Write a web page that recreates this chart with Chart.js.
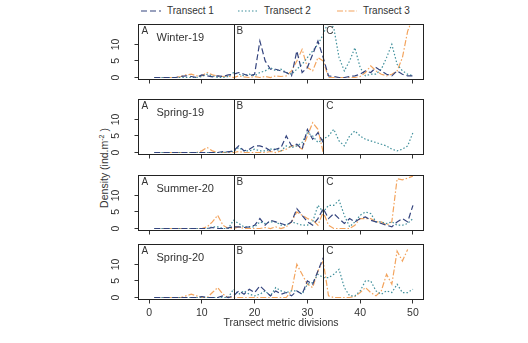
<!DOCTYPE html>
<html>
<head>
<meta charset="utf-8">
<script src="https://cdn.jsdelivr.net/npm/chart.js@4.4.0/dist/chart.umd.min.js"></script>
<style>
  body { margin: 0; background: #fff; }
  #wrap { position: relative; width: 528px; height: 343px; overflow: hidden;
          font-family: "Liberation Sans", Arial, sans-serif; color: #333; }
  #wrap canvas { position: absolute; left: 0; }
  .leg { position: absolute; top: 5px; font-size: 10px; line-height: 12px; white-space: nowrap; }
  .leg svg { vertical-align: middle; margin-right: 6px; }
  #ytitle { position: absolute; left: 104px; top: 168px; font-size: 10.5px; white-space: nowrap;
            transform: translate(-50%, -50%) rotate(-90deg); }
  #ytitle sup { font-size: 7px; }
</style>
</head>
<body>
<div id="wrap">
  <div id="ytitle">Density (ind.m<sup>-2</sup> )</div>
</div>
<script>
// transect metric divisions (x)
var divisions = [1,2,3,4,5,6,7,8,9,10,11,12,13,14,15,16,17,18,19,20,21,22,23,24,25,
                 26,27,28,29,30,31,32,33,34,35,36,37,38,39,40,41,42,43,44,45,46,47,48,49,50];
var xTicks = [0, 10, 20, 30, 40, 50];
var yTicks = [0, 5, 10];
var zoneBreaks = [16, 33];
var zoneNames = ["A", "B", "C"];
var seriesNames = ["Transect 1", "Transect 2", "Transect 3"];
var seasons = ["Winter-19", "Spring-19", "Summer-20", "Spring-20"];

// Winter-19
var w19T1 = [0,0,0,0,0,0.3,0.5,0.3,0,0.8, 0.5,0.2,0.5,0.3,0.8,1,1.5,1,0.5,1,
             11,5,2.5,2.5,2,1.5,0.5,8,1.5,3, 7,11,6,0.5,0.3,0,0,0.3,0.5,1,
             2,1.5,3,2,1,0.5,2,1,0.5,0.5];
var w19T2 = [0,0,0,0,0,0,0,0,0,0.3, 1,0.5,0,0,0.3,1.5,1,0.5,1,0.5,
             1.5,2,3,2,2.5,1.5,1,2.5,4,6, 8,10,13,17,15,6,2,5,9,3,
             0.5,1,1,2.5,6,10,4,2,1,0.5];
var w19T3 = [0,0,0,0,0,0.3,0.8,1,0.5,0.5, 1.5,0.8,0.5,0.3,0.5,0,0.5,0.2,0,0.3,
             0,0.3,0,0.5,0.3,0.5,2,5,8.5,3, 2,6,5,0,0,0,0,0,0,0.3,
             1.5,3.5,2,1,0.5,1,2,6,14,18];
// Spring-19
var s19T1 = [0,0,0,0,0,0,0,0,0,0, 0,0,0,0.3,0.2,0.5,2,0.5,1,2,
             2,1.5,0.5,1,1.5,5,2,2.5,1,7, 4,6,3,null,null,null,null,null,null,null,
             null,null,null,null,null,null,null,null,null,null];
var s19T2 = [0,0,0,0,0,0,0,0,0,0, 0,0,0,0,0.2,0.3,1.5,0.5,0.5,1,
             0.5,0.5,1,1,0.5,2,1.5,2,3,6, 5,3,4,5,7,3.5,2,5,6.5,5,
             4,3.5,3,2.5,2,1,0.5,1,2,6];
var s19T3 = [0,0,0,0,0,0,0,0,0,0.5, 1.5,0.5,0,0,0,0,0.3,0,0,0,
             0,0,0.3,0,0.5,1,2,2,1,5, 9,7,0,null,null,null,null,null,null,null,
             null,null,null,null,null,null,null,null,null,null];
// Summer-20
var s20T1 = [0,0,0,0,0,0,0,0,0,0, 0,0.3,0,0,0.2,0.5,0.5,0.3,0.5,1,
             3,1,2.5,2,1.5,1,2,6,4,2, 1,3,6,3,4.5,3,1.5,3,2,3,
             3.5,2.5,2,1.5,1,0.5,2,3,2,7];
var s20T2 = [0,0,0,0,0,0,0,0,0,0, 0,0.5,0.5,0,0,2.5,1.5,0.5,0.5,0.5,
             2,1.5,2,2,1,1,2,1.5,1,1, 2,7,5,7,7,8.5,4,0.5,2,4,
             5,4.5,2,2,1.5,2,1,1,1.5,3];
var s20T3 = [0,0,0,0,0,0,0,0,0,0, 0.5,2,4,1,0,0,0.5,0,0,0,
             0,0.3,0,0.5,0,0.5,2,5,4,3, 2.5,1,5,1,0,0,0,0,1,3,
             3,3,2,2,1,2,15,14.7,15.2,15.8];
// Spring-20
var sp20T1 = [0,0,0,0,0,0,0,0,0,0.3, 0,0,0,0.5,0,0.5,2,1,2.5,1.5,
              3.5,2,0.5,2,1,1.5,0.5,2,1,5, 4,8,12,null,null,null,null,null,null,null,
              null,null,null,null,null,null,null,null,null,null];
var sp20T2 = [0,0,0,0,0,0,0,0,0,0, 0,0,0,0,0,2.5,1,2,1,0.5,
              1,2,0.5,3,2,1.5,2,2,1,4, 4.5,7,6,6,7,8.5,3,0.5,0.5,2,
              5,5,2,1,2,1.5,4,1.5,1.5,2.5];
var sp20T3 = [0,0,0,0,0,0,0.5,1,0.5,0, 0,1.5,3,1,0,0,0,0,0,0,
              0,0,0,0,0,0,2,10,7,4, 3,8,11,0.5,0,0,0,0,0.3,1.5,
              3,1.5,0.5,2,7,4,14,11,14.5,null];

var panelSeries = [
  [w19T1, w19T2, w19T3],
  [s19T1, s19T2, s19T3],
  [s20T1, s20T2, s20T3],
  [sp20T1, sp20T2, sp20T3]
];

// styles
var lineColors = ["#34447e", "#3f8f9b", "#f3a45e"];
var lineDashes = [[6, 3], [1.5, 2], [6, 2, 1.5, 2]];
var FONT = '"Liberation Sans", Arial, sans-serif';
var AREA_L = 138.5, AREA_R = 423.5, BOX_H = 55;
var boxTops = [24.5, 99.5, 175.5, 244.5];

var wrap = document.getElementById("wrap");

// legend
var legLeft = [141, 238, 337];
seriesNames.forEach(function (name, i) {
  var d = document.createElement("div");
  d.className = "leg";
  d.style.left = legLeft[i] + "px";
  d.innerHTML = '<svg width="20" height="4"><line x1="0" y1="2" x2="20" y2="2" stroke="' +
    lineColors[i] + '" stroke-width="1.2" stroke-dasharray="' + lineDashes[i].join(",") +
    '"/></svg>' + name;
  wrap.appendChild(d);
});

var panelDecor = {
  id: "panelDecor",
  afterDraw: function (chart, args, opts) {
    var ctx = chart.ctx, a = chart.chartArea, x = chart.scales.x, y = chart.scales.y;
    ctx.save();
    ctx.strokeStyle = "#222";
    ctx.lineWidth = 1;
    ctx.strokeRect(a.left, a.top, a.right - a.left, a.bottom - a.top);
    zoneBreaks.forEach(function (b) {
      var px = Math.round(x.getPixelForValue(b)) + 0.5;
      ctx.beginPath();
      ctx.moveTo(px, a.top);
      ctx.lineTo(px, a.bottom);
      ctx.stroke();
    });
    ctx.fillStyle = "#333";
    ctx.font = "10px " + FONT;
    ctx.textBaseline = "top";
    zoneNames.forEach(function (z, i) {
      var left = i === 0 ? a.left : x.getPixelForValue(zoneBreaks[i - 1]);
      ctx.fillText(z, left + 3, a.top + 2);
    });
    ctx.font = "11px " + FONT;
    ctx.textBaseline = "middle";
    ctx.fillText(opts.season, a.left + 18, a.top + 13);
    // rotated y tick labels
    ctx.font = "10.5px " + FONT;
    ctx.textAlign = "center";
    yTicks.forEach(function (v) {
      ctx.save();
      ctx.translate(116, y.getPixelForValue(v));
      ctx.rotate(-Math.PI / 2);
      ctx.fillText(String(v), 0, 0);
      ctx.restore();
    });
    ctx.restore();
  }
};

panelSeries.forEach(function (series, p) {
  var isLast = p === panelSeries.length - 1;
  var canvasTop = Math.floor(boxTops[p]) - 5;
  var padTop = boxTops[p] - canvasTop;
  var canvasH = isLast ? 343 - canvasTop : Math.ceil(padTop + BOX_H + 8);
  var axisH = canvasH - padTop - BOX_H;

  var cv = document.createElement("canvas");
  cv.width = 528;
  cv.height = canvasH;
  cv.style.top = canvasTop + "px";
  wrap.appendChild(cv);

  var datasets = series.map(function (vals, i) {
    return {
      label: seriesNames[i],
      data: divisions.map(function (d, k) { return { x: d, y: vals[k] }; }),
      borderColor: lineColors[i],
      borderDash: lineDashes[i],
      borderWidth: 1.2,
      pointRadius: 0,
      tension: 0,
      fill: false,
      spanGaps: false
    };
  });

  new Chart(cv, {
    type: "line",
    data: { datasets: datasets },
    options: {
      responsive: false,
      animation: false,
      devicePixelRatio: 1,
      layout: { padding: { top: padTop, right: 528 - AREA_R, left: 0, bottom: 0 } },
      plugins: {
        legend: { display: false },
        tooltip: { enabled: false },
        panelDecor: { season: seasons[p] }
      },
      scales: {
        x: {
          type: "linear", min: -2, max: 52,
          afterBuildTicks: function (s) { s.ticks = xTicks.map(function (v) { return { value: v }; }); },
          afterFit: function (s) { s.height = axisH; },
          grid: { drawOnChartArea: false, drawTicks: true, tickLength: 4, color: "#333" },
          border: { display: false },
          ticks: { display: isLast, color: "#333", padding: 3, maxRotation: 0,
                   font: { size: 10.5, family: FONT } },
          title: { display: isLast, text: "Transect metric divisions", color: "#333",
                   font: { size: 10.5, family: FONT }, padding: { top: 0, bottom: 14 } }
        },
        y: {
          type: "linear", min: -0.6, max: 16,
          afterBuildTicks: function (s) { s.ticks = yTicks.map(function (v) { return { value: v }; }); },
          afterFit: function (s) { s.width = AREA_L; },
          grid: { drawOnChartArea: false, drawTicks: true, tickLength: 4, color: "#333" },
          border: { display: false },
          ticks: { display: false }
        }
      }
    },
    plugins: [panelDecor]
  });
});
</script>
</body>
</html>
